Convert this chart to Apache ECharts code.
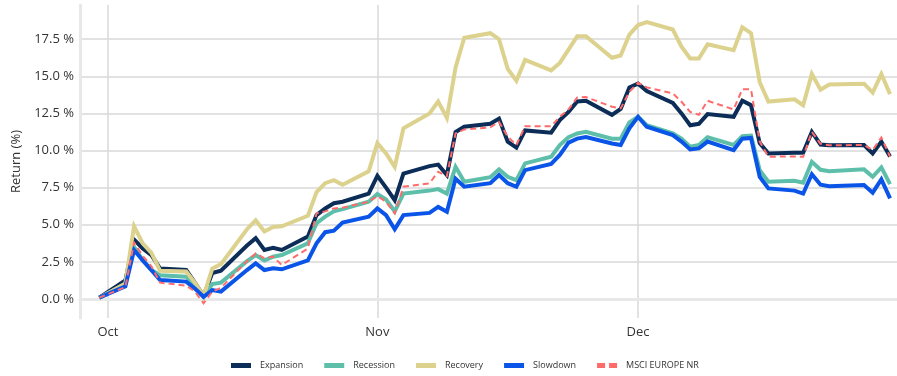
<!DOCTYPE html>
<html>
<head>
<meta charset="utf-8">
<script src="https://cdn.jsdelivr.net/npm/echarts@6/dist/echarts.min.js"></script>
<style>
html,body{margin:0;padding:0;background:#fff;}
#chart{width:897px;height:376px;}
</style>
</head>
<body>
<div id="chart"></div>
<script>
const dates = ["2022-09-30","2022-10-03","2022-10-04","2022-10-05","2022-10-06","2022-10-07","2022-10-10","2022-10-11","2022-10-12","2022-10-13","2022-10-14","2022-10-17","2022-10-18","2022-10-19","2022-10-20","2022-10-21","2022-10-24","2022-10-25","2022-10-26","2022-10-27","2022-10-28","2022-10-31","2022-11-01","2022-11-02","2022-11-03","2022-11-04","2022-11-07","2022-11-08","2022-11-09","2022-11-10","2022-11-11","2022-11-14","2022-11-15","2022-11-16","2022-11-17","2022-11-18","2022-11-21","2022-11-22","2022-11-23","2022-11-24","2022-11-25","2022-11-28","2022-11-29","2022-11-30","2022-12-01","2022-12-02","2022-12-05","2022-12-06","2022-12-07","2022-12-08","2022-12-09","2022-12-12","2022-12-13","2022-12-14","2022-12-15","2022-12-16","2022-12-19","2022-12-20","2022-12-21","2022-12-22","2022-12-23","2022-12-27","2022-12-28","2022-12-29","2022-12-30"];

const expansion = [0.09,1.25,4.0,3.4,2.95,2.05,1.95,1.1,0.2,1.75,1.9,3.6,4.1,3.3,3.45,3.3,4.2,5.65,6.1,6.45,6.55,7.1,8.3,7.5,6.65,8.45,8.95,9.05,8.35,11.25,11.6,11.8,12.15,10.6,10.2,11.35,11.2,12.05,12.6,13.3,13.35,12.4,12.8,14.25,14.5,14.0,13.2,12.5,11.7,11.8,12.45,12.27,13.35,13.05,10.5,9.8,9.85,9.85,11.25,10.4,10.35,10.37,9.8,10.6,9.6];

const recession = [0.09,1.0,3.5,2.6,1.95,1.6,1.5,0.9,0.15,1.0,1.1,2.55,2.96,2.6,2.85,2.96,3.75,5.1,5.55,5.9,6.05,6.55,7.07,6.7,5.9,7.1,7.3,7.4,7.1,8.9,7.9,8.2,8.73,8.23,8.0,9.13,9.58,10.37,10.9,11.15,11.26,10.8,10.8,11.9,12.27,11.7,11.15,10.8,10.26,10.37,10.9,10.37,10.97,11.0,8.68,7.9,7.96,7.83,9.24,8.7,8.6,8.73,8.23,8.86,7.74];

const recovery = [0.07,1.05,4.9,3.75,3.1,1.9,1.85,1.1,0.2,2.05,2.35,4.7,5.3,4.55,4.85,4.9,5.6,7.2,7.8,8.0,7.7,8.6,10.5,9.8,8.9,11.5,12.5,13.3,12.2,15.6,17.6,17.9,17.5,15.5,14.7,16.1,15.4,15.9,16.8,17.7,17.7,16.25,16.4,17.8,18.45,18.65,18.15,17.0,16.2,16.2,17.15,16.75,18.3,17.9,14.6,13.3,13.45,13.05,15.15,14.1,14.45,14.5,13.9,15.15,13.8];

const slowdown = [0.09,0.85,3.3,2.6,1.95,1.28,1.17,0.7,0.15,0.6,0.5,1.95,2.4,1.95,2.07,2.0,2.6,3.75,4.5,4.6,5.15,5.55,6.1,5.65,4.7,5.65,5.8,6.2,5.88,8.1,7.56,7.8,8.35,7.8,7.56,8.68,9.1,9.7,10.53,10.8,10.9,10.47,10.37,11.5,12.27,11.6,11.04,10.6,10.07,10.14,10.6,10.03,10.8,10.85,8.23,7.45,7.3,7.1,8.4,7.7,7.6,7.67,7.16,8.06,6.78];

const msci = [0.09,0.8,3.8,2.9,2.2,1.1,0.9,0.5,-0.29,0.5,0.75,2.55,3.07,2.74,2.85,2.29,3.4,5.77,5.9,6.1,6.15,6.55,6.93,6.55,5.77,7.56,7.79,8.57,8.28,11.15,11.42,11.56,11.93,10.93,10.37,11.64,11.64,12.27,12.77,13.57,13.6,12.95,12.83,13.95,14.56,14.25,13.85,13.28,12.6,12.4,13.35,12.77,14.13,14.13,10.6,9.58,9.6,9.58,11.26,10.45,10.35,10.37,10.03,10.88,9.58];

const seriesNames = ["Expansion","Recession","Recovery","Slowdown","MSCI EUROPE NR"];
const monthNames = ['Jan','Feb','Mar','Apr','May','Jun','Jul','Aug','Sep','Oct','Nov','Dec'];

function ts(s){ const p = s.split('-').map(Number); return Date.UTC(p[0], p[1]-1, p[2]); }
function pairs(arr){ return arr.map((v,i)=>[ts(dates[i]), v]); }

const DAY = 86400000;
const xMin = ts("2022-10-01") - 3.22*DAY;
const xMax = ts("2022-12-01") + 29.8*DAY;

const font = "'Open Sans', 'DejaVu Sans', sans-serif";
const chart = echarts.init(document.getElementById('chart'), null, {renderer:'canvas'});

function lineSeries(name, data, color, width, dashed, z){
  return {
    name: name, type: 'line', data: pairs(data), showSymbol: false, symbol: 'none',
    lineStyle: {color: color, width: width, type: dashed ? [6,4] : 'solid', cap: 'butt', join: 'miter'},
    itemStyle: {color: color},
    z: z, animation: false
  };
}

const solidIcon = 'path://M0,0h20v5h-20z';
const dashIcon = 'path://M0,0h8v5h-8z M12,0h8v5h-8z';

chart.setOption({
  useUTC: true,
  animation: false,
  backgroundColor: '#ffffff',
  grid: {left: 80, right: 0, top: 5, bottom: 58, containLabel: false},
  legend: {
    bottom: 1, left: 226, itemWidth: 20, itemHeight: 5, itemGap: 21,
    textStyle: {fontFamily: font, fontSize: 9, color: '#333', padding: [0,0,0,4]},
    data: seriesNames.map((n,i)=>({name: n, icon: i===4 ? dashIcon : solidIcon}))
  },
  xAxis: {
    type: 'time', min: xMin, max: xMax, splitNumber: 3,
    axisLine: {show: true, lineStyle: {color: '#e8e8e8', width: 3}},
    axisTick: {show: false},
    axisLabel: {
      fontFamily: font, fontSize: 13, color: '#333', margin: 8,
      showMinLabel: false, showMaxLabel: false,
      formatter: function(v){ const d = new Date(v); return d.getUTCDate()===1 ? monthNames[d.getUTCMonth()] : ''; }
    },
    splitLine: {show: true, showMinLine: false, showMaxLine: false, lineStyle: {color: '#d9d9d9', width: 1.5}}
  },
  yAxis: {
    type: 'value', min: -1.28, max: 19.8, minInterval: 2.5, maxInterval: 2.5,
    name: 'Return (%)', nameLocation: 'middle', nameGap: 53, nameRotate: 90,
    nameTextStyle: {fontFamily: font, fontSize: 13, color: '#333'},
    axisLine: {show: true, lineStyle: {color: '#e8e8e8', width: 3}},
    axisTick: {show: false},
    axisLabel: {
      fontFamily: font, fontSize: 13, color: '#333', margin: 6,
      showMinLabel: false, showMaxLabel: false,
      formatter: function(v){ return v.toFixed(1) + ' %'; }
    },
    splitLine: {show: true, showMinLine: false, showMaxLine: false, lineStyle: {color: '#d9d9d9', width: 1.5}}
  },
  series: [
    lineSeries(seriesNames[0], expansion, '#0c2d57', 4, false, 2),
    lineSeries(seriesNames[1], recession, '#5dbfa9', 4, false, 3),
    lineSeries(seriesNames[2], recovery, '#dcd28e', 4, false, 4),
    lineSeries(seriesNames[3], slowdown, '#0a55e8', 4, false, 5),
    lineSeries(seriesNames[4], msci, '#ff6b6b', 2, true, 6)
  ]
});
</script>
</body>
</html>
